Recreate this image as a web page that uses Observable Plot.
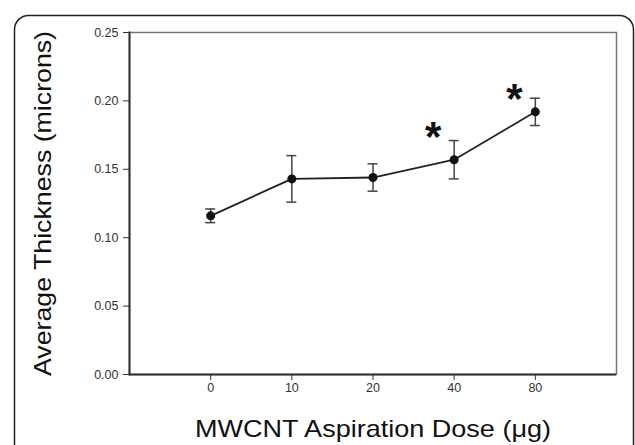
<!DOCTYPE html>
<html>
<head>
<meta charset="utf-8">
<script src="https://cdn.jsdelivr.net/npm/d3@7"></script>
<script src="https://cdn.jsdelivr.net/npm/@observablehq/plot@0.6"></script>
<style>
  html, body { margin: 0; padding: 0; background: #fff; }
  #chart { width: 635px; height: 445px; overflow: hidden; }
</style>
</head>
<body>
<div id="chart"></div>
<script>
const doses = ["0", "10", "20", "40", "80"];
const means = [0.116, 0.143, 0.144, 0.157, 0.192];
const errors = [0.005, 0.017, 0.010, 0.014, 0.010];
const starDoses = ["40", "80"];
const starY = [0.1784, 0.2061];
const yTicks = [0, 0.05, 0.10, 0.15, 0.20, 0.25];
const xTitle = "MWCNT Aspiration Dose (\u03bcg)";
const yTitle = "Average Thickness (microns)";

const data = doses.map((d, i) => ({dose: d, mean: means[i], lo: means[i] - errors[i], hi: means[i] + errors[i]}));
const stars = starDoses.map((d, i) => ({dose: d, y: starY[i]}));

const font = "Liberation Sans, Arial, Helvetica, sans-serif";

const plot = Plot.plot({
  width: 635,
  height: 445,
  marginLeft: 129,
  marginRight: 19,
  marginTop: 32,
  marginBottom: 71,
  style: {fontFamily: font, background: "#fff", color: "#333"},
  x: {type: "band", domain: doses, paddingInner: 0.877, paddingOuter: 0.9385, round: false, label: null},
  y: {domain: [0, 0.25], label: null},
  marks: [
    Plot.frame({stroke: "#777", strokeWidth: 1.5}),
    Plot.frame({anchor: "left", stroke: "#333", strokeWidth: 2}),
    Plot.ruleY([0], {stroke: "#333", strokeWidth: 2}),
    Plot.axisX({ticks: doses, tickSize: 6, tickPadding: 3, fontSize: 12.5, stroke: "#333", fill: "#333", label: null}),
    Plot.axisY({ticks: yTicks, tickSize: 6, tickPadding: 5, fontSize: 12.5, tickFormat: d3.format(".2f"), stroke: "#333", fill: "#333", label: null}),
    Plot.ruleX(data, {x: "dose", y1: "lo", y2: "hi", stroke: "#444", strokeWidth: 1.5}),
    Plot.tickY(data, {x: "dose", y: "lo", stroke: "#444", strokeWidth: 1.5}),
    Plot.tickY(data, {x: "dose", y: "hi", stroke: "#444", strokeWidth: 1.5}),
    Plot.line(data, {x: "dose", y: "mean", stroke: "#222", strokeWidth: 1.8}),
    Plot.dot(data, {x: "dose", y: "mean", r: 4.5, fill: "#111", stroke: "none"}),
    Plot.text(stars, {x: "dose", y: "y", text: () => "*", fontSize: 42, fontWeight: "bold", fill: "#111", lineAnchor: "top", dx: -21, dy: -9}),
    Plot.text([xTitle], {frameAnchor: "bottom", text: d => d, fontSize: 24, fill: "#111", textAnchor: "middle", lineAnchor: "bottom", dy: 62, className: "xtitle"}),
    Plot.text([yTitle], {frameAnchor: "left", text: d => d, fontSize: 24, fill: "#111", rotate: -90, textAnchor: "middle", lineAnchor: "bottom", dx: -79, className: "ytitle"})
  ]
});

const svg = d3.select(plot);
svg.select(".xtitle text").attr("textLength", 356).attr("lengthAdjust", "spacingAndGlyphs");
svg.select(".ytitle text").attr("textLength", 345).attr("lengthAdjust", "spacingAndGlyphs");
svg.append("rect")
  .attr("x", 14.5).attr("y", 15.5)
  .attr("width", 619).attr("height", 520)
  .attr("rx", 14).attr("ry", 14)
  .attr("fill", "none").attr("stroke", "#222").attr("stroke-width", 1.5);

document.getElementById("chart").appendChild(plot);
</script>
</body>
</html>
